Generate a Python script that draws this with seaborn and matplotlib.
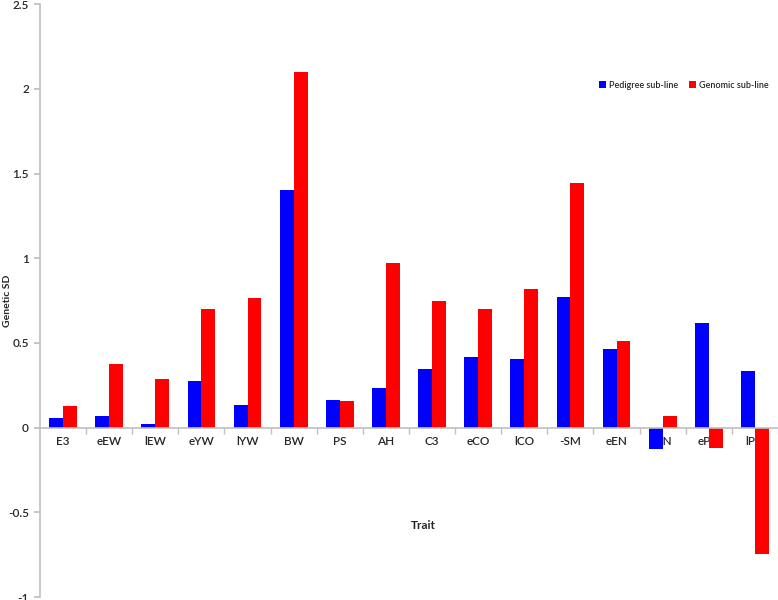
import pandas as pd
import matplotlib.pyplot as plt
import seaborn as sns
from matplotlib.ticker import FixedLocator

traits = ["E3", "eEW", "lEW", "eYW", "lYW", "BW", "PS", "AH",
          "C3", "eCO", "lCO", "-SM", "eEN", "lEN", "ePD", "lPD"]
pedigree = [0.057, 0.069, 0.02, 0.278, 0.133, 1.404, 0.162, 0.235,
            0.347, 0.418, 0.406, 0.773, 0.465, -0.129, 0.616, 0.337]
genomic = [0.13, 0.376, 0.286, 0.70, 0.768, 2.098, 0.156, 0.970,
           0.746, 0.699, 0.821, 1.447, 0.512, 0.071, -0.12, -0.745]
groups = ["Pedigree sub-line", "Genomic sub-line"]

df = pd.DataFrame({
    "Trait": traits * 2,
    "Genetic SD": pedigree + genomic,
    "Line": [groups[0]] * len(traits) + [groups[1]] * len(traits),
})

sns.set_theme(style="white")
plt.rcParams['font.family'] = ['Lato', 'DejaVu Sans']

fig = plt.figure(figsize=(7.78, 6), dpi=100)
ax = fig.add_axes([0.0514, 0.005, 0.9486, 0.988])

sns.barplot(data=df, x="Trait", y="Genetic SD", hue="Line", order=traits,
            hue_order=groups, palette=["#0000ff", "#ff0000"], saturation=1,
            width=0.6, linewidth=0, ax=ax)

ax.set_ylim(-1, 2.5)
ax.set_xlim(-0.5, len(traits) - 0.5)
ax.set_yticks([-1, -0.5, 0, 0.5, 1, 1.5, 2, 2.5])
ax.set_yticklabels(["-1", "-0.5", "0", "0.5", "1", "1.5", "2", "2.5"])

for s in ["top", "right"]:
    ax.spines[s].set_visible(False)
ax.spines["left"].set_color("#bfbfbf")
ax.spines["bottom"].set_color("#bfbfbf")
ax.spines["left"].set_linewidth(1.2)
ax.spines["bottom"].set_linewidth(1.2)
ax.spines["bottom"].set_position(("data", 0))

ax.xaxis.set_minor_locator(FixedLocator([i + 0.5 for i in range(len(traits))]))
ax.tick_params(axis="x", which="major", length=0, pad=6, labelsize=8.5)
ax.tick_params(axis="x", which="minor", length=4, color="#bfbfbf",
               direction="out", bottom=True)
ax.tick_params(axis="y", length=4, color="#bfbfbf", direction="out",
               left=True, pad=4, labelsize=8.5)
for lab in ax.get_xticklabels() + ax.get_yticklabels():
    lab.set_fontweight("semibold")

ax.set_xlabel("Trait", fontsize=8.5, fontweight="bold")
ax.xaxis.set_label_coords(0.52, 0.13)
ax.set_ylabel("Genetic SD", fontsize=7.5, fontweight="bold")
ax.yaxis.set_label_coords(-0.038, 0.5)

ax.legend(loc="center", bbox_to_anchor=(0.872, 0.863), ncol=2, frameon=False,
          handlelength=0.8, handleheight=0.8, handletextpad=0.3,
          columnspacing=1.2, prop={"weight": "semibold", "size": 6.5})

fig.savefig("out.png", dpi=100)
